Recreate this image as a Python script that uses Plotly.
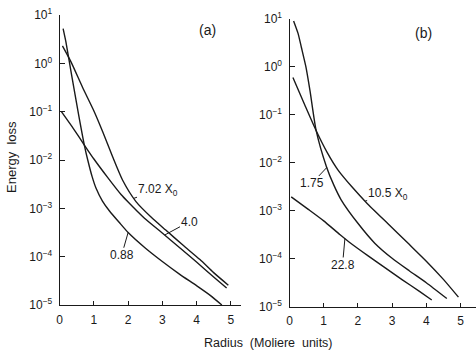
import plotly.graph_objects as go
import numpy as np

# ---------- data (radius in Moliere units, energy loss as log10 exponent) ----------
# panel (a)
r_a_702 = [0.08, 0.33, 0.67, 1.01, 1.26, 1.55, 1.84, 2.23, 2.67, 3.1, 3.6, 4.1, 4.5, 4.93]
e_a_702 = [0.36, 0.03, -0.5, -1.0, -1.42, -1.94, -2.42, -2.86, -3.18, -3.45, -3.76, -4.06, -4.33, -4.59]
r_a_40 = [0.05, 0.4, 0.72, 1.0, 1.4, 1.8, 2.0, 2.47, 3.05, 3.5, 4.0, 4.5, 4.88]
e_a_40 = [-1.0, -1.35, -1.69, -1.98, -2.36, -2.72, -2.87, -3.2, -3.54, -3.81, -4.11, -4.42, -4.65]
r_a_088 = [0.1, 0.18, 0.35, 0.55, 0.72, 0.82, 0.95, 1.06, 1.25, 1.45, 1.75, 2.0, 2.5, 3.0, 3.5, 4.0, 4.4, 4.74]
e_a_088 = [0.72, 0.45, -0.25, -1.05, -1.69, -2.0, -2.35, -2.58, -2.85, -3.05, -3.3, -3.5, -3.82, -4.1, -4.36, -4.6, -4.8, -5.0]
# panel (b)
r_b_105 = [0.1, 0.45, 0.78, 1.1, 1.42, 1.85, 2.25, 2.88, 3.5, 4.0, 4.5, 4.94]
e_b_105 = [-0.22, -0.8, -1.33, -1.78, -2.15, -2.52, -2.83, -3.27, -3.7, -4.05, -4.43, -4.8]
r_b_175 = [0.12, 0.25, 0.35, 0.48, 0.6, 0.78, 1.08, 1.3, 1.51, 2.0, 2.5, 3.0, 3.5, 4.0, 4.6]
e_b_175 = [0.96, 0.7, 0.4, 0.0, -0.5, -1.33, -2.08, -2.47, -2.77, -3.26, -3.68, -3.99, -4.25, -4.5, -4.83]
r_b_228 = [0.05, 0.55, 1.0, 1.48, 1.76, 2.3, 2.8, 3.3, 3.8, 4.16]
e_b_228 = [-2.71, -2.97, -3.21, -3.5, -3.66, -3.94, -4.19, -4.44, -4.68, -4.86]

x_ticks = [0, 1, 2, 3, 4, 5]
y_exps = [1, 0, -1, -2, -3, -4, -5]
y_ticktext = ["10<sup>%s</sup>" % (str(e).replace("-", "\u2212")) for e in y_exps]

# curve labels: (text, series r, series e, radius where pointer touches, text centre r, text centre log10)
labels_a = [("7.02 X<sub>0</sub>", r_a_702, e_a_702, 2.17, 2.86, -2.62),
            ("4.0", r_a_40, e_a_40, 3.07, 3.78, -3.28),
            ("0.88", r_a_088, e_a_088, 2.0, 1.81, -3.97)]
labels_b = [("1.75", r_b_175, e_b_175, 1.09, 0.65, -2.43),
            ("10.5 X<sub>0</sub>", r_b_105, e_b_105, 2.21, 2.87, -2.65),
            ("22.8", r_b_228, e_b_228, 1.62, 1.55, -4.13)]

W, H = 476, 353
FONT = "Liberation Sans, Arial, sans-serif"
INK = "#1a1a1a"

def fx(px):
    return px / W

def fy(py):
    return 1 - py / H

fig = go.Figure()
for r, e, ax_name in [(r_a_702, e_a_702, 1), (r_a_40, e_a_40, 1), (r_a_088, e_a_088, 1),
                      (r_b_105, e_b_105, 2), (r_b_175, e_b_175, 2), (r_b_228, e_b_228, 2)]:
    fig.add_trace(go.Scatter(
        x=r, y=[10 ** v for v in e], mode="lines",
        line=dict(color=INK, width=1.4, shape="spline", smoothing=0.6),
        xaxis="x" if ax_name == 1 else "x2", yaxis="y" if ax_name == 1 else "y2",
        showlegend=False, hoverinfo="skip"))

annotations = []
for lab_set, xr, yr in [(labels_a, "x", "y"), (labels_b, "x2", "y2")]:
    for text, r, e, rp, tx, ty in lab_set:
        annotations.append(dict(
            x=rp, y=float(np.interp(rp, r, e)), xref=xr, yref=yr, text=text,
            showarrow=True, arrowhead=0, arrowwidth=1, arrowcolor=INK,
            ax=tx, ay=ty, axref=xr, ayref=yr,
            font=dict(family=FONT, size=12, color=INK), borderpad=0))

def paper_text(x, y, text, size=12, angle=0):
    return dict(x=fx(x), y=fy(y), xref="paper", yref="paper", text=text, showarrow=False,
                xanchor="center", yanchor="middle", textangle=angle,
                font=dict(family=FONT, size=size, color=INK))

annotations += [
    paper_text(207, 30, "(a)", size=14),
    paper_text(423, 33, "(b)", size=14),
    paper_text(11, 157, "Energy  loss", size=13, angle=-90),
    paper_text(268, 343, "Radius  (Moliere  units)", size=12.5),
]

def xaxis(domain, rng, anchor):
    return dict(domain=domain, range=rng, tickvals=x_ticks, ticktext=[str(v) for v in x_ticks],
                showline=True, linecolor=INK, linewidth=1.2, ticks="inside", ticklen=4,
                tickcolor=INK, showgrid=False, zeroline=False, fixedrange=True,
                automargin=False, anchor=anchor, ticklabeloverflow="allow",
                tickfont=dict(family=FONT, size=12, color=INK), ticklabelstandoff=3)

def yaxis(domain, anchor):
    return dict(domain=domain, type="log", range=[-5, 1], tickvals=[10 ** e for e in y_exps],
                ticktext=y_ticktext, showline=True, linecolor=INK, linewidth=1.2,
                ticks="inside", ticklen=5, tickcolor=INK, showgrid=False, zeroline=False,
                automargin=False, anchor=anchor, ticklabeloverflow="allow",
                tickfont=dict(family=FONT, size=12, color=INK), ticklabelstandoff=4)

fig.update_layout(
    width=W, height=H, margin=dict(l=0, r=0, t=0, b=0, autoexpand=False),
    paper_bgcolor="white", plot_bgcolor="white",
    xaxis=xaxis([fx(59.7), fx(241)], [0, 5.3], "y"),
    yaxis=yaxis([fy(305), fy(15)], "x"),
    xaxis2=xaxis([fx(289.5), 1.0], [0, (476 - 289.5) / 34.2], "y2"),
    yaxis2=yaxis([fy(306.7), fy(19)], "x2"),
    annotations=annotations,
)

# remove the browser's default 8px body margin so the figure sits at the window corner
fig.write_html("out.html", config={"displayModeBar": False},
               post_script="document.body.style.margin='0px';")
